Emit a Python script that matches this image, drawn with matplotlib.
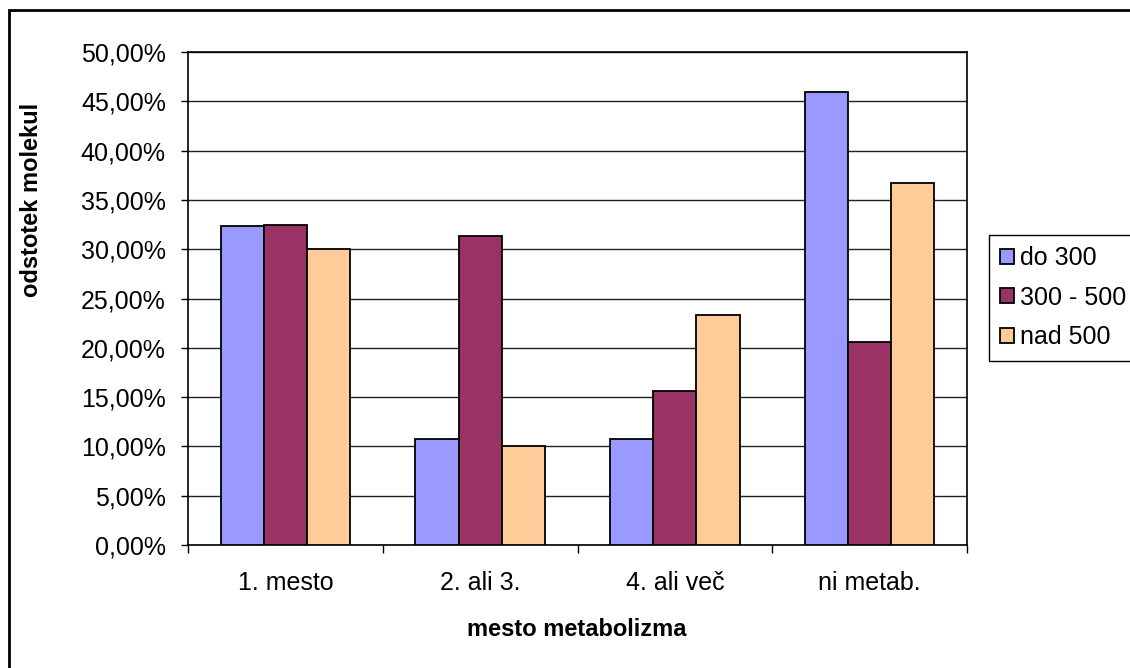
import matplotlib
matplotlib.use("Agg")
import matplotlib.pyplot as plt
from matplotlib.patches import Rectangle
from matplotlib.ticker import FuncFormatter
import numpy as np

plt.rcParams['font.family'] = ['Liberation Sans', 'DejaVu Sans']

categories = ["1. mesto", "2. ali 3.", "4. ali več", "ni metab."]
series_names = ["do 300", "300 - 500", "nad 500"]
do_300 = [32.4, 10.8, 10.8, 45.9]
od_300_do_500 = [32.5, 31.3, 15.6, 20.6]
nad_500 = [30.0, 10.0, 23.3, 36.7]
colors = ["#9999FF", "#993366", "#FFCC99"]
y_ticks = [0, 5, 10, 15, 20, 25, 30, 35, 40, 45, 50]

W, H = 1130, 668
fig = plt.figure(figsize=(W / 100, H / 100), dpi=100)
ax = fig.add_axes([188 / W, 1 - 545 / H, (967 - 188) / W, (545 - 52) / H])

x = np.arange(len(categories))
bw = 0.222
for i, (vals, name, c) in enumerate(zip([do_300, od_300_do_500, nad_500], series_names, colors)):
    ax.bar(x + (i - 1) * bw, vals, width=bw, color=c, edgecolor="black", linewidth=1.3,
           label=name, zorder=3)

ax.set_xlim(-0.5, len(categories) - 0.5)
ax.set_ylim(0, 50)
ax.set_yticks(y_ticks)
ax.yaxis.set_major_formatter(FuncFormatter(lambda v, p: f"{v:.2f}".replace(".", ",") + "%"))
ax.yaxis.grid(True, color="#222222", linewidth=1, zorder=0)
ax.tick_params(axis="y", direction="out", length=5, width=1, pad=11, labelsize=18)

ax.set_xticks(x)
ax.set_xticklabels(categories)
ax.set_xticks(np.arange(-0.5, len(categories)), minor=True)
ax.tick_params(axis="x", which="major", length=0, pad=19, labelsize=18)
ax.tick_params(axis="x", which="minor", direction="out", length=6, width=1)
for s in ax.spines.values():
    s.set_color("black")
    s.set_linewidth(1.2)

fig.text(32 / W, 1 - 200 / H, "odstotek molekul", rotation=90, ha="center", va="center",
         fontsize=17, fontweight="bold")
fig.text(577 / W, 1 - 630 / H, "mesto metabolizma", ha="center", va="center",
         fontsize=17, fontweight="bold")

fig.legend(loc="upper left", bbox_to_anchor=(989 / W, 1 - 235 / H), fontsize=18,
           frameon=True, fancybox=False, edgecolor="black", framealpha=1,
           handlelength=0.55, handleheight=0.55, handletextpad=0.25,
           labelspacing=0.62, borderpad=0.45, borderaxespad=0)

fig.add_artist(Rectangle((9 / W, -0.1), 1.2, 1.1 - 10 / H, transform=fig.transFigure,
                         fill=False, edgecolor="black", linewidth=2))

fig.savefig("out.png", dpi=100)
